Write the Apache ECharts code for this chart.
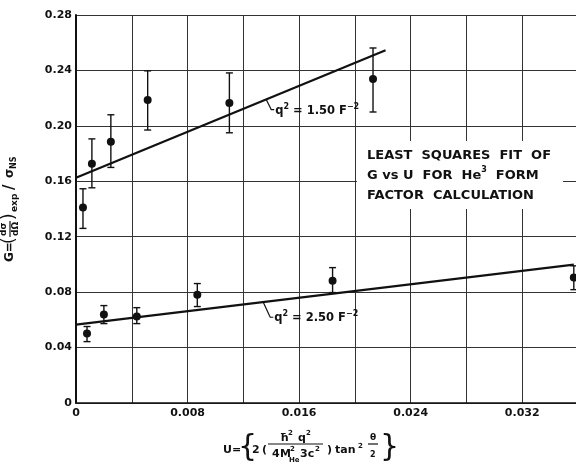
<!DOCTYPE html>
<html>
<head>
<meta charset="utf-8">
<script src="https://cdn.jsdelivr.net/npm/echarts@6/dist/echarts.min.js"></script>
<style>
  html, body { margin: 0; padding: 0; background: #fff; }
  #chart { width: 576px; height: 466px; }
</style>
</head>
<body>
<div id="chart"></div>
<script>
// q^2 = 1.50 F^-2 points
var u150 = [0.0005, 0.00114, 0.0025, 0.00514, 0.011, 0.0213];
var g150 = [0.141, 0.1726, 0.1885, 0.2187, 0.2165, 0.2339];
var lo150 = [0.126, 0.1553, 0.170, 0.197, 0.195, 0.210];
var hi150 = [0.1546, 0.1906, 0.208, 0.2397, 0.2382, 0.2562];
// q^2 = 2.50 F^-2 points
var u250 = [0.00079, 0.002, 0.00436, 0.0087, 0.0184, 0.0357];
var g250 = [0.0501, 0.0638, 0.0624, 0.0782, 0.0883, 0.0905];
var lo250 = [0.0443, 0.0573, 0.0573, 0.0696, 0.0797, 0.0818];
var hi250 = [0.0552, 0.0703, 0.0688, 0.0862, 0.0977, 0.099];
// least squares lines
var fit150 = [[0, 0.1625], [0.0222, 0.2545]];
var fit250 = [[0, 0.0565], [0.0357, 0.0998]];
// line labels, anchored on the fit lines
var noteAt = [[0.01364, 0.219], [0.01343, 0.0727]];
var noteText = ['1.50', '2.50'];
// tick labels
var xLabels = ['0', '0.008', '0.016', '0.024', '0.032'];
var yLabels = ['0', '0.04', '0.08', '0.12', '0.16', '0.20', '0.24', '0.28'];

var font = '"DejaVu Sans", sans-serif';
var ink = '#111';

var chart = echarts.init(document.getElementById('chart'));

function points(u, g) {
  return u.map(function (x, i) { return [x, g[i]]; });
}
function bars(u, lo, hi) {
  return u.map(function (x, i) { return [x, lo[i], hi[i]]; });
}

function renderErr(params, api) {
  var x = api.value(0);
  var a = api.coord([x, api.value(1)]);
  var b = api.coord([x, api.value(2)]);
  var st = { stroke: ink, lineWidth: 1.4 };
  return {
    type: 'group',
    children: [
      { type: 'line', shape: { x1: a[0], y1: a[1], x2: b[0], y2: b[1] }, style: st },
      { type: 'line', shape: { x1: a[0] - 3.5, y1: a[1], x2: a[0] + 3.5, y2: a[1] }, style: st },
      { type: 'line', shape: { x1: b[0] - 3.5, y1: b[1], x2: b[0] + 3.5, y2: b[1] }, style: st }
    ]
  };
}

var leader = [[5, 10], [7, 15]];
function renderNote(params, api) {
  var p = api.coord([api.value(0), api.value(1)]);
  var off = leader[params.dataIndex];
  var q = [p[0] + off[0], p[1] + off[1]];
  return {
    type: 'group',
    children: [
      {
        type: 'polyline',
        shape: { points: [p, [q[0] - 1, q[1] - 2], q, [q[0] + 3, q[1]]] },
        style: { stroke: ink, lineWidth: 1.2, fill: null }
      },
      {
        type: 'text', x: q[0] + 4, y: q[1],
        style: {
          text: '{b|q}{s|2}{b| = ' + noteText[params.dataIndex] + ' F}{s|−2}',
          verticalAlign: 'middle',
          rich: {
            b: { font: 'bold 11.5px ' + font, fill: ink, verticalAlign: 'bottom', lineHeight: 14 },
            s: { font: 'bold 8px ' + font, fill: ink, verticalAlign: 'top', lineHeight: 14 }
          }
        }
      }
    ]
  };
}

function t(x, y, text, size, extra) {
  var o = {
    type: 'text', x: x, y: y,
    style: { text: text, font: 'bold ' + (size || 11) + 'px ' + font, fill: ink, verticalAlign: 'middle' }
  };
  if (extra) Object.assign(o.style, extra);
  return o;
}
function hline(x1, x2, y) {
  return { type: 'line', shape: { x1: x1, y1: y, x2: x2, y2: y }, style: { stroke: ink, lineWidth: 1.2 } };
}

var option = {
  backgroundColor: '#fff',
  animation: false,
  grid: { left: 76, top: 15, width: 502, height: 388, containLabel: false, outerBoundsMode: 'none' },
  xAxis: {
    type: 'value', min: 0, max: 0.036, interval: 0.004,
    axisLine: { show: true, lineStyle: { color: ink, width: 1.5 } },
    axisTick: { show: false },
    splitLine: { show: true, lineStyle: { color: '#333', width: 1 } },
    axisLabel: {
      margin: 5, color: ink, fontFamily: font, fontWeight: 'bold', fontSize: 11,
      formatter: function (v) {
        var k = Math.round(v / 0.008 * 2);
        if (k % 2 !== 0) return '';
        return xLabels[k / 2] || '';
      }
    }
  },
  yAxis: {
    type: 'value', min: 0, max: 0.28, interval: 0.04,
    axisLine: { show: true, lineStyle: { color: ink, width: 2 } },
    axisTick: { show: false },
    splitLine: { show: true, lineStyle: { color: '#333', width: 1 } },
    axisLabel: {
      margin: 4, color: ink, fontFamily: font, fontWeight: 'bold', fontSize: 11,
      formatter: function (v) { return yLabels[Math.round(v / 0.04)]; }
    }
  },
  series: [
    { type: 'line', data: fit150, symbol: 'none', lineStyle: { color: ink, width: 2.2 }, z: 3 },
    { type: 'line', data: fit250, symbol: 'none', lineStyle: { color: ink, width: 2.2 }, z: 3 },
    { type: 'custom', data: bars(u150, lo150, hi150), renderItem: renderErr, z: 4 },
    { type: 'custom', data: bars(u250, lo250, hi250), renderItem: renderErr, z: 4 },
    { type: 'scatter', data: points(u150, g150), symbolSize: 8, itemStyle: { color: ink, opacity: 1 }, z: 5 },
    { type: 'scatter', data: points(u250, g250), symbolSize: 8, itemStyle: { color: ink, opacity: 1 }, z: 5 },
    { type: 'custom', data: noteAt, renderItem: renderNote, z: 6 }
  ],
  graphic: [
    {
      type: 'text', left: 357, top: 141, z: 10,
      style: {
        text: 'LEAST  SQUARES  FIT  OF\nG vs U  FOR  He{s|3}  FORM\nFACTOR  CALCULATION',
        font: 'bold 13px ' + font, fill: ink, lineHeight: 20,
        backgroundColor: '#fff', padding: [5, 12, 3, 10],
        rich: { s: { font: 'bold 8px ' + font, fill: ink, verticalAlign: 'top', lineHeight: 20 } }
      }
    },
    // y axis title, rotated
    {
      type: 'group', x: 10, y: 262, rotation: Math.PI / 2,
      children: [
        t(0, 0, 'G=', 12),
        t(18, 0, '(', 22, { font: '17px ' + font }),
        t(26, -6, 'dσ', 9),
        hline(25, 41, 0),
        t(26, 6, 'dΩ', 9),
        t(42, 0, ')', 22, { font: '17px ' + font }),
        t(50, 5, 'exp', 9),
        t(72, 0, '/', 15),
        t(84, 0, 'σ', 12),
        t(93, 4, 'NS', 8)
      ]
    },
    // x axis title
    {
      type: 'group', x: 223, y: 450,
      children: [
        t(0, 0, 'U='),
        t(15, -2, '{', 30, { font: '30px ' + font }),
        t(29, 0, '2'),
        t(39, 0, '(', 11),
        t(57, -12, 'ħ', 11),
        t(65, -17, '2', 7),
        t(75, -12, 'q', 11),
        t(83, -17, '2', 7),
        hline(45, 100, -6),
        t(49, 4, '4', 11),
        t(57, 4, 'M', 11),
        t(67, -1, '2', 7),
        t(66, 10, 'He', 7),
        t(77, 4, '3c', 11),
        t(92, -1, '2', 7),
        t(104, 0, ')', 11),
        t(112, 0, 'tan', 11),
        t(135, -4, '2', 7),
        t(147, -12, 'θ', 9),
        hline(145, 155, -6),
        t(147, 5, '2', 8),
        t(157, -2, '}', 30, { font: '30px ' + font })
      ]
    }
  ]
};

chart.setOption(option);
</script>
</body>
</html>
